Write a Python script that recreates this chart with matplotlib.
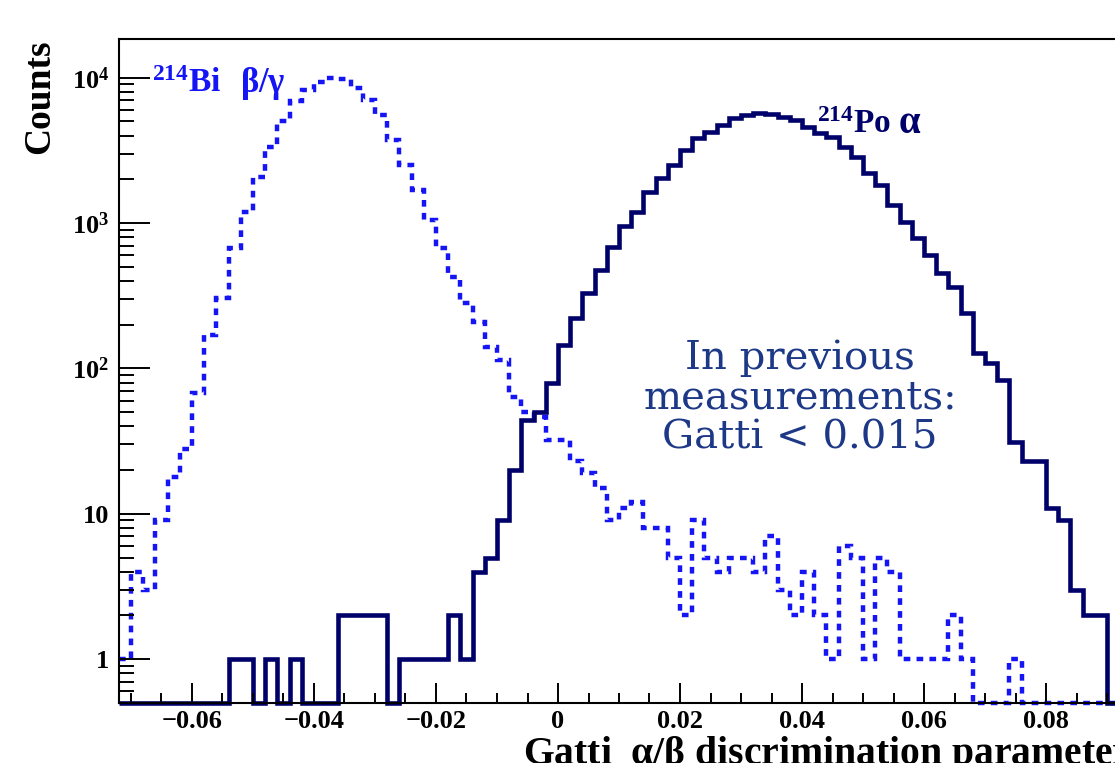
import numpy as np
import matplotlib as mpl
mpl.use('Agg')
import matplotlib.pyplot as plt
from matplotlib.ticker import (MultipleLocator, FixedLocator, FixedFormatter,
                               LogLocator, NullFormatter, FuncFormatter)

# fonts: ROOT-like bold Times
mpl.rcParams['font.family'] = 'Liberation Serif'
mpl.rcParams['font.weight'] = 'bold'
mpl.rcParams['mathtext.fontset'] = 'custom'
mpl.rcParams['mathtext.rm'] = 'Liberation Serif:bold'
mpl.rcParams['mathtext.bf'] = 'Liberation Serif:bold'
mpl.rcParams['mathtext.it'] = 'Liberation Serif'

# histogram binning (Gatti parameter)
bin_lo = -0.072
bin_w = 0.002
n_bins = 85
edges = bin_lo + bin_w * np.arange(n_bins + 1)

# 214Bi beta/gamma counts per bin
bi_counts = [1, 4, 3, 9, 18, 28, 68, 170, 305, 674,
             1192, 2077, 3340, 5044, 6900, 8240, 9355, 9970, 9820, 8510,
             7035, 5546, 3733, 2512, 1690, 1050, 674, 426, 282, 208,
             140, 114, 64, 50, 46, 32, 32, 23, 19, 15,
             9, 11, 12, 8, 8, 5, 2, 9, 5, 4,
             5, 5, 4, 7, 3, 2, 4, 2, 1, 6,
             5, 1, 5, 4, 1, 1, 1, 1, 2, 1,
             0, 0, 0, 1, 0, 0, 0, 0, 0, 0, 0, 0, 0, 0, 0]

# 214Po alpha counts per bin
po_counts = [0, 0, 0, 0, 0, 0, 0, 0, 0, 1,
             1, 0, 1, 0, 1, 0, 0, 0, 2, 2,
             2, 2, 0, 1, 1, 1, 1, 2, 1, 4,
             5, 9, 20, 44, 50, 79, 145, 222, 330, 476,
             685, 956, 1192, 1636, 2044, 2512, 3185, 3853, 4237, 4733,
             5288, 5546, 5727, 5636, 5372, 5117, 4585, 4170, 3915, 3340,
             2851, 2213, 1829, 1333, 1018, 789, 603, 454, 363, 241,
             128, 109, 83, 31, 23, 23, 11, 9, 3, 2,
             2, 0, 0, 0, 0]

y_min, y_max = 0.5, 1.86e4
y_ticks = [1, 10, 100, 1000, 10000]
y_labels = ['1', '10', '$10^{2}$', '$10^{3}$', '$10^{4}$']

bi_col = '#1414f5'
po_col = '#00006a'

W, H = 1115, 763
fig = plt.figure(figsize=(W / 100, H / 100), dpi=100)
ax = fig.add_axes((118.8 / W, 60 / H, (1168 - 118.8) / W, (703 - 38.5) / H))

bi = np.array(bi_counts, dtype=float)
po = np.array(po_counts, dtype=float)
# empty bins are drawn on the lower frame, as ROOT does
ax.stairs(np.where(bi > 0, bi, y_min), edges, baseline=None, color=bi_col,
          linewidth=3.2, linestyle=(0, (1.5, 1.4)), clip_on=False)
ax.stairs(np.where(po > 0, po, y_min), edges, baseline=None, color=po_col,
          linewidth=3.3, clip_on=False)

ax.set_yscale('log')
ax.set_xlim(bin_lo, 0.1)
ax.set_ylim(y_min, y_max)

ax.xaxis.set_major_locator(MultipleLocator(0.02))
ax.xaxis.set_minor_locator(MultipleLocator(0.005))
ax.xaxis.set_major_formatter(FuncFormatter(
    lambda v, p: '0' if abs(v) < 1e-9 else ('%.2f' % v).replace('-', '\u2212')))
ax.yaxis.set_major_locator(FixedLocator(y_ticks))
ax.yaxis.set_major_formatter(FixedFormatter(y_labels))
ax.yaxis.set_minor_locator(LogLocator(base=10, subs=np.arange(2, 10), numticks=20))
ax.yaxis.set_minor_formatter(NullFormatter())

ax.tick_params(axis='both', which='both', direction='in', top=False, right=False,
               width=1.4, colors='black', labelsize=19)
ax.tick_params(axis='x', which='major', length=14.4, pad=5)
ax.tick_params(axis='x', which='minor', length=7.2)
ax.tick_params(axis='y', which='major', length=22, pad=7)
ax.tick_params(axis='y', which='minor', length=11)
for s in ax.spines.values():
    s.set_linewidth(1.5)

fig.text(40 / W, 1 - 97 / H, 'Counts', rotation=90, ha='center', va='center',
         fontsize=27, fontweight='bold')
fig.text(523 / W, 1 - 734 / H, r'Gatti  $\alpha/\beta$ discrimination parameter',
         ha='left', va='top', fontsize=28.5, fontweight='bold')

# labels of the two populations
ax.text(-0.0666, 7980, r'$^{214}$Bi', color=bi_col, fontsize=24,
        fontweight='bold', va='baseline', ha='left')
ax.text(-0.0521, 7980, r'$\beta/\gamma$', color=bi_col, fontsize=25,
        va='baseline', ha='left')
ax.text(0.0425, 4170, r'$^{214}$Po', color=po_col, fontsize=24,
        fontweight='bold', va='baseline', ha='left')
ax.text(0.0557, 4170, r'$\alpha$', color=po_col, fontsize=28,
        va='baseline', ha='left')

ax.text(0.0397, 62.5, 'In previous\nmeasurements:\nGatti < 0.015',
        ha='center', va='center', multialignment='center', linespacing=1.1,
        fontsize=29, fontweight='normal', family='DejaVu Serif', color='#1c3887')

fig.savefig('out.png', dpi=100)
